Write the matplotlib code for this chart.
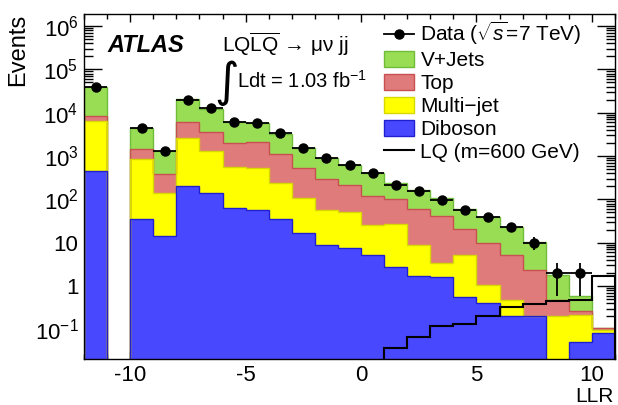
import numpy as np
import matplotlib
matplotlib.use("Agg")
import matplotlib.pyplot as plt
from matplotlib.patches import Patch
from matplotlib.lines import Line2D

plt.rcParams['font.family'] = ['Liberation Sans', 'DejaVu Sans']
plt.rcParams['mathtext.fontset'] = 'custom'
plt.rcParams['mathtext.rm'] = 'Liberation Sans'
plt.rcParams['mathtext.it'] = 'Liberation Sans:italic'

# bin edges of the LLR histogram (width 1, from -12 to 11)
edges = np.arange(-12, 12)

# stacked background components (events per bin)
diboson = [455, 0, 34.7, 14.3, 204, 143, 62, 57, 35, 16.5, 8.85, 7.4,
           5.2, 2.8, 1.7, 1.58, 0.57, 0.4, 0.2, 0.2, 0, 0.052, 0.081]
multijet = [6045, 0, 808, 124, 2396, 1177, 488, 473, 208, 89.5, 48, 44.6,
            20.5, 24.2, 7.1, 1.9, 4.6, 0.65, 0.27, 0, 0.2, 0.16, 0.016]
top = [2000, 0, 592, 248, 3600, 2180, 1430, 1570, 877, 431, 234, 163,
       94, 73, 51, 37, 15, 9, 4.7, 2.1, 0.27, 0.05, 0.008]
vjets = [31500, 0, 2965, 948, 14200, 8500, 4020, 3600, 2180, 963, 629, 405,
         280, 135, 105, 66, 40, 30, 18, 8.2, 1.33, 0.31, 0]

# observed data and LQ (m=600 GeV) signal
data = [40000, 0, 4400, 1330, 20000, 12600, 6200, 5800, 3400, 1500, 920, 620,
        400, 215, 155, 97, 57, 39, 23, 10, 2, 2, 0]
lq = [0, 0, 0, 0, 0, 0, 0, 0, 0, 0, 0, 0,
      0, 0.036, 0.068, 0.119, 0.132, 0.2, 0.32, 0.38, 0.45, 0.48, 1.7]

labels = ["V+Jets", "Top", "Multi\u2212jet", "Diboson"]
fills = ["#99dd55", "#e07b7b", "#ffff00", "#4848ff"]
lines = ["#6fbb3a", "#c85050", "#d8d800", "#2020d0"]

fig = plt.figure(figsize=(6.18, 4.05), dpi=100)
ax = fig.add_axes([84/618, 1-359/405, 531/618, 345/405])

tiny = 1e-6
comps = [np.array(diboson), np.array(multijet), np.array(top), np.array(vjets)]
cum = np.cumsum(comps, axis=0)
# draw the stack like ROOT does: each cumulative histogram filled down to the floor
for i in range(3, -1, -1):
    h = cum[i]
    h = np.where(h > 0, h, tiny)
    ax.stairs(h, edges, baseline=tiny, fill=True, color=fills[3 - i], zorder=2)
    ax.stairs(h, edges, baseline=tiny, fill=False, color=lines[3 - i], lw=1.0, zorder=2.5)

lqv = np.array(lq)
ax.stairs(np.where(lqv > 0, lqv, tiny), edges, baseline=tiny, color="black", lw=1.5, zorder=3)

d = np.array(data, dtype=float)
centers = 0.5 * (edges[:-1] + edges[1:])
m = d > 0
ax.errorbar(centers[m], d[m], xerr=0.5, yerr=np.sqrt(d[m]), fmt="o", color="black",
            ms=6.5, lw=1.3, capsize=0, zorder=4)

ax.set_yscale("log")
ax.set_xlim(-12, 11)
ax.set_ylim(0.0206, 1.9e6)

ax.set_xticks([-10, -5, 0, 5, 10])
ax.set_xticklabels(["-10", "-5", "0", "5", "10"])
ax.set_xticks(np.arange(-12, 12), minor=True)
yt = [0.1, 1, 10, 1e2, 1e3, 1e4, 1e5, 1e6]
ax.set_yticks(yt)
ax.set_yticklabels(["$10^{-1}$", "1", "10", "$10^{2}$", "$10^{3}$", "$10^{4}$",
                    "$10^{5}$", "$10^{6}$"])
ax.yaxis.set_minor_locator(matplotlib.ticker.LogLocator(base=10, subs=np.arange(2, 10), numticks=20))
ax.yaxis.set_minor_formatter(matplotlib.ticker.NullFormatter())

ax.tick_params(which="both", direction="in", top=True, right=True, labelsize=16, width=1)
ax.tick_params(axis="x", which="major", length=6, pad=4.5)
ax.tick_params(axis="x", which="minor", length=3.5)
ax.tick_params(axis="y", which="major", length=13, pad=4)
ax.tick_params(axis="y", which="minor", length=6.5)
for s in ax.spines.values():
    s.set_linewidth(1.0)

ax.set_ylabel("Events", fontsize=17, ha="right", va="center")
ax.yaxis.set_label_coords(-0.124, 1.0)
ax.set_xlabel("LLR", fontsize=15, ha="right", va="center")
ax.xaxis.set_label_coords(0.997, -0.11)

fig.text(107/618, 1-45/405, "ATLAS", fontsize=17, weight="bold", style="italic", va="center")
fig.text(222/618, 1-44/405, "LQ$\\overline{\\mathrm{LQ}}$ \u2192 \u03bc\u03bd jj",
         fontsize=15, va="center")
fig.text(214/618, 1-83/405, "\u222b", fontsize=34, va="center", family="DejaVu Sans")
fig.text(237/618, 1-81/405, r"Ldt = 1.03 fb$^{\mathregular{-1}}$", fontsize=14.5, va="center")

handles = [Line2D([], [], color="black", marker="o", ms=6.5, lw=1.3)]
for idx in range(4):
    handles.append(Patch(facecolor=fills[idx], edgecolor=lines[idx], lw=1.0))
handles.append(Line2D([], [], color="black", lw=1.5))
names = [r"Data ($\sqrt{s}$=7 TeV)"] + labels + ["LQ (m=600 GeV)"]
ax.legend(handles, names, loc="upper left", bbox_to_anchor=(384/618, 1-20/405),
          bbox_transform=fig.transFigure, frameon=False, fontsize=15,
          handlelength=1.45, handleheight=0.8, handletextpad=0.3,
          labelspacing=0.18, borderpad=0, borderaxespad=0)

fig.savefig("out.png", dpi=100)
